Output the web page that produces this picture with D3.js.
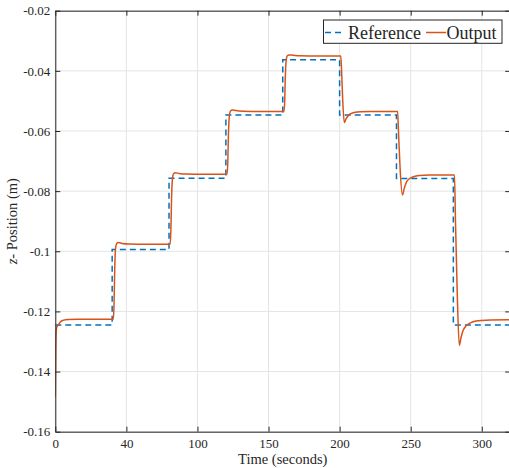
<!DOCTYPE html>
<html>
<head>
<meta charset="utf-8">
<script src="https://cdn.jsdelivr.net/npm/d3@7/dist/d3.min.js"></script>
<style>
  html, body { margin: 0; padding: 0; background: #fff; }
  svg { display: block; }
  text { font-family: "Liberation Serif", "Times New Roman", serif; fill: #262626; }
</style>
</head>
<body>
<svg id="chart" width="509" height="468"></svg>
<script>
// ---- data ----
const xTickValues = [0, 50, 100, 150, 200, 250, 300];
const xTickLabels = ["0", "40", "100", "150", "200", "250", "300"];
const yTickValues = [-0.16, -0.14, -0.12, -0.1, -0.08, -0.06, -0.04, -0.02];
const yTickLabels = ["-0.16", "-0.14", "-0.12", "-0.1", "-0.08", "-0.06", "-0.04", "-0.02"];

const refT = [0, 40, 80, 120, 160, 200, 240, 280, 320];
const refV = [-0.1245, -0.0994, -0.0757, -0.0547, -0.0363, -0.0547, -0.0758, -0.1245, -0.1245];

const outT = [
  0, 0.3, 0.7, 1.2, 2.0, 2.8, 4, 6, 9, 15, 25, 40.8,
  41.3, 41.8, 42.4, 43.2, 44.5, 47, 52, 65, 80.8,
  81.3, 81.8, 82.4, 83.2, 84.5, 87, 92, 105, 120.8,
  121.3, 121.8, 122.4, 123.2, 124.5, 127, 132, 145, 160.8,
  161.3, 161.8, 162.4, 163.2, 164.5, 167, 172, 185, 200.8,
  201.4, 202.2, 203.3, 204.5, 206, 208, 211, 215, 222, 240.8,
  241.4, 242.5, 244.2, 245.5, 247, 249, 252, 256, 263, 280.8,
  281.5, 282.8, 284.2, 285.5, 287, 289, 292, 296, 303, 320
];
const outV = [
  -0.1484, -0.1330, -0.1262, -0.1250, -0.1247, -0.1240, -0.1233, -0.1229, -0.1227, -0.1226, -0.1226, -0.1226,
  -0.1180, -0.1060, -0.0990, -0.0974, -0.0971, -0.0974, -0.0976, -0.0977, -0.0977,
  -0.0930, -0.0820, -0.0760, -0.0742, -0.0739, -0.0741, -0.0743, -0.0744, -0.0744,
  -0.0710, -0.0610, -0.0552, -0.0534, -0.0530, -0.0532, -0.0534, -0.0535, -0.0535,
  -0.0510, -0.0420, -0.0366, -0.0350, -0.0347, -0.0348, -0.0350, -0.0351, -0.0351,
  -0.0400, -0.0500, -0.0572, -0.0560, -0.0549, -0.0542, -0.0538, -0.0536, -0.0535, -0.0535,
  -0.0600, -0.0720, -0.0813, -0.0790, -0.0770, -0.0759, -0.0752, -0.0748, -0.0746, -0.0746,
  -0.0900, -0.1150, -0.1313, -0.1285, -0.1262, -0.1248, -0.1238, -0.1232, -0.1229, -0.1228
];

const seriesNames = ["Reference", "Output"];
const seriesColors = ["#0072BD", "#D95319"];

// ---- layout ----
const svg = d3.select("#chart");
const L = 55.3, R = 510.2, T = 10.7, B = 431.7;
const x = d3.scaleLinear().domain([0, 320]).range([L, R]);
const y = d3.scaleLinear().domain([-0.16, -0.02]).range([B, T]);

// grid
const grid = svg.append("g");
grid.selectAll(".gx").data(xTickValues).enter().append("line")
  .attr("x1", d => x(d)).attr("x2", d => x(d)).attr("y1", T).attr("y2", B)
  .attr("stroke", "#e4e4e4").attr("stroke-width", 1);
grid.selectAll(".gy").data(yTickValues).enter().append("line")
  .attr("x1", L).attr("x2", R).attr("y1", d => y(d)).attr("y2", d => y(d))
  .attr("stroke", "#e4e4e4").attr("stroke-width", 1);

// clip
svg.append("clipPath").attr("id", "clip").append("rect")
  .attr("x", L).attr("y", T).attr("width", R - L).attr("height", B - T);

const refData = refT.map((t, i) => [t, refV[i]]);
const outData = outT.map((t, i) => [t, outV[i]]);

const plot = svg.append("g").attr("clip-path", "url(#clip)");
plot.append("path").datum(refData)
  .attr("d", d3.line().x(d => x(d[0])).y(d => y(d[1])).curve(d3.curveStepAfter))
  .attr("fill", "none").attr("stroke", seriesColors[0]).attr("stroke-width", 1.5)
  .attr("stroke-dasharray", "6,4");
plot.append("path").datum(outData)
  .attr("d", d3.line().x(d => x(d[0])).y(d => y(d[1])).curve(d3.curveMonotoneX))
  .attr("fill", "none").attr("stroke", seriesColors[1]).attr("stroke-width", 1.5);

// axes
const axColor = "#262626";
const xAxis = d3.axisBottom(x).tickValues(xTickValues)
  .tickFormat((d, i) => xTickLabels[i]).tickSizeInner(-5).tickSizeOuter(0).tickPadding(7);
const gx = svg.append("g").attr("transform", `translate(0,${B})`).call(xAxis);
const yAxis = d3.axisLeft(y).tickValues(yTickValues)
  .tickFormat((d, i) => yTickLabels[i]).tickSizeInner(-5).tickSizeOuter(0).tickPadding(5);
const gy = svg.append("g").attr("transform", `translate(${L},0)`).call(yAxis);
const gxt = svg.append("g").attr("transform", `translate(0,${T})`)
  .call(d3.axisTop(x).tickValues(xTickValues).tickFormat("").tickSizeInner(-5).tickSizeOuter(0));
const gyr = svg.append("g").attr("transform", `translate(${R},0)`)
  .call(d3.axisRight(y).tickValues(yTickValues).tickFormat("").tickSizeInner(-5).tickSizeOuter(0));
[gx, gy, gxt, gyr].forEach(g => {
  g.select(".domain").attr("stroke", axColor).attr("stroke-width", 1);
  g.selectAll(".tick line").attr("stroke", axColor).attr("stroke-width", 1);
  g.selectAll("text").attr("font-family", "Liberation Serif, serif")
    .attr("font-size", 13).attr("fill", axColor);
});

// axis labels
svg.append("text").attr("x", (L + R) / 2).attr("y", 464)
  .attr("text-anchor", "middle").attr("font-size", 14.5).text("Time (seconds)");
const yl = svg.append("text")
  .attr("transform", `translate(17,${(T + B) / 2}) rotate(-90)`)
  .attr("text-anchor", "middle").attr("font-size", 14.5);
yl.append("tspan").attr("font-style", "italic").text("z");
yl.append("tspan").text("- Position (m)");

// legend
const lg = svg.append("g");
lg.append("rect").attr("x", 323.5).attr("y", 20).attr("width", 178.5).attr("height", 23.3)
  .attr("fill", "#fff").attr("stroke", axColor).attr("stroke-width", 1);
lg.append("line").attr("x1", 325).attr("x2", 344).attr("y1", 32.5).attr("y2", 32.5)
  .attr("stroke", seriesColors[0]).attr("stroke-width", 1.5).attr("stroke-dasharray", "6,4");
lg.append("text").attr("x", 348).attr("y", 38.5).attr("font-size", 18).text(seriesNames[0]);
lg.append("line").attr("x1", 426).attr("x2", 446).attr("y1", 32.5).attr("y2", 32.5)
  .attr("stroke", seriesColors[1]).attr("stroke-width", 1.5);
lg.append("text").attr("x", 446.5).attr("y", 38.5).attr("font-size", 18).text(seriesNames[1]);
</script>
</body>
</html>
